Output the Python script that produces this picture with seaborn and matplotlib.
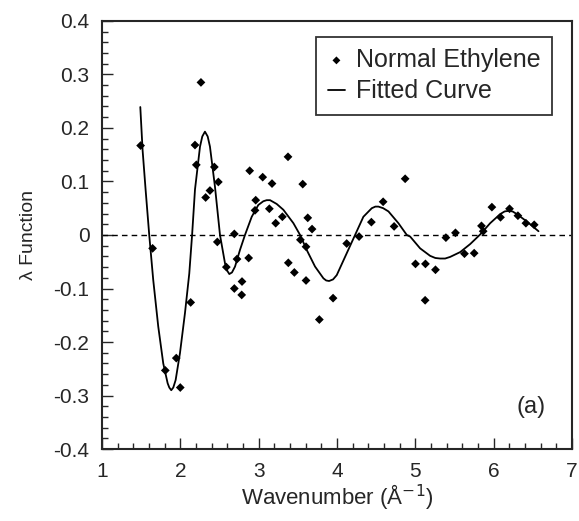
import matplotlib
matplotlib.use("Agg")
import matplotlib.pyplot as plt
from matplotlib.ticker import MultipleLocator
import seaborn as sns
import pandas as pd

# measured points (wavenumber, lambda)
k_data = [1.494, 1.647, 1.809, 1.949, 2.000, 2.133, 2.188, 2.205, 2.264, 2.324,
          2.379, 2.435, 2.473, 2.486, 2.588, 2.690, 2.690, 2.724, 2.784, 2.788,
          2.873, 2.886, 2.954, 2.963, 3.052, 3.137, 3.171, 3.218, 3.303, 3.375,
          3.379, 3.456, 3.533, 3.563, 3.605, 3.605, 3.627, 3.682, 3.775, 3.950,
          4.124, 4.282, 4.439, 4.589, 4.729, 4.870, 5.002, 5.125, 5.129, 5.257,
          5.390, 5.512, 5.627, 5.751, 5.844, 5.866, 5.977, 6.087, 6.202, 6.309,
          6.411, 6.517]
lam_data = [0.167, -0.025, -0.253, -0.230, -0.285, -0.126, 0.168, 0.131, 0.285, 0.070,
            0.083, 0.127, -0.013, 0.099, -0.060, 0.002, -0.100, -0.045, -0.112, -0.087,
            -0.043, 0.120, 0.046, 0.065, 0.108, 0.049, 0.096, 0.022, 0.034, 0.146,
            -0.052, -0.070, -0.009, 0.095, -0.022, -0.085, 0.032, 0.011, -0.158, -0.118,
            -0.016, -0.003, 0.024, 0.062, 0.016, 0.105, -0.054, -0.122, -0.054, -0.065,
            -0.005, 0.004, -0.035, -0.034, 0.017, 0.007, 0.052, 0.033, 0.049, 0.036,
            0.022, 0.019]

# fitted curve
k_fit = [1.490, 1.519, 1.558, 1.604, 1.655, 1.719, 1.783, 1.839, 1.860, 1.885,
         1.911, 1.941, 1.996, 2.060, 2.115, 2.151, 2.188, 2.252, 2.281, 2.315,
         2.350, 2.379, 2.443, 2.507, 2.571, 2.600, 2.626, 2.660, 2.699, 2.762,
         2.826, 2.912, 2.996, 3.060, 3.103, 3.146, 3.230, 3.316, 3.444, 3.529,
         3.614, 3.720, 3.827, 3.862, 3.899, 3.950, 3.997, 4.103, 4.231, 4.337,
         4.444, 4.490, 4.529, 4.590, 4.657, 4.784, 4.891, 4.934, 5.061, 5.189,
         5.255, 5.317, 5.380, 5.444, 5.572, 5.700, 5.828, 5.955, 6.083, 6.140,
         6.189, 6.240, 6.296, 6.424, 6.572]
lam_fit = [0.239, 0.159, 0.084, 0.000, -0.084, -0.171, -0.240, -0.277, -0.285, -0.290,
           -0.285, -0.271, -0.221, -0.146, -0.072, 0.000, 0.085, 0.165, 0.184, 0.193,
           0.184, 0.165, 0.090, 0.000, -0.053, -0.067, -0.073, -0.070, -0.059, -0.028,
           0.000, 0.034, 0.056, 0.063, 0.065, 0.065, 0.058, 0.047, 0.022, 0.000,
           -0.028, -0.059, -0.081, -0.085, -0.086, -0.083, -0.075, -0.041, 0.000, 0.034,
           0.050, 0.053, 0.053, 0.050, 0.044, 0.022, 0.000, -0.003, -0.025, -0.039,
           -0.043, -0.044, -0.044, -0.041, -0.032, -0.017, 0.001, 0.022, 0.039, 0.044,
           0.045, 0.044, 0.039, 0.025, 0.007]

sns.set_style("ticks")
plt.rcParams['font.family'] = ['Liberation Sans', 'DejaVu Sans']

df_pts = pd.DataFrame({'k': k_data, 'lam': lam_data})
df_fit = pd.DataFrame({'k': k_fit, 'lam': lam_fit})

fig = plt.figure(figsize=(5.79, 5.21), dpi=100)
ax = fig.add_axes([0.176, 0.138, 0.812, 0.822])

ax.axhline(0, color='black', lw=1, ls=(0, (4, 3)), zorder=1)
sns.lineplot(data=df_fit, x='k', y='lam', color='black', lw=1.3, sort=False,
             label='Fitted Curve', ax=ax)
sns.scatterplot(data=df_pts, x='k', y='lam', marker='D', color='black', s=20,
                edgecolor='none', label='Normal Ethylene', ax=ax)

ax.set_xlim(1, 7)
ax.set_ylim(-0.4, 0.4)
ax.xaxis.set_major_locator(MultipleLocator(1))
ax.xaxis.set_minor_locator(MultipleLocator(0.2))
ax.yaxis.set_minor_locator(MultipleLocator(0.02))
ax.set_yticks([-0.4, -0.3, -0.2, -0.1, 0, 0.1, 0.2, 0.3, 0.4])
ax.set_yticklabels(['-0.4', '-0.3', '-0.2', '-0.1', '0', '0.1', '0.2', '0.3', '0.4'])
ax.tick_params(which='major', direction='in', length=8, width=1, labelsize=15, pad=9)
ax.tick_params(which='minor', direction='in', length=4.5, width=1)
for s in ax.spines.values():
    s.set_linewidth(1.5)

ax.set_xlabel('Wavenumber (Å$^{-1}$)', fontsize=16, labelpad=1)
ax.set_ylabel('λ Function', fontsize=14, labelpad=12)

h, l = ax.get_legend_handles_labels()
leg = ax.legend(h[::-1], l[::-1], loc='upper right', bbox_to_anchor=(0.958, 0.963),
                fontsize=18, frameon=True, fancybox=False, edgecolor='black',
                handlelength=0.7, handletextpad=0.45, borderpad=0.45,
                borderaxespad=0, labelspacing=0.3, markerscale=0.9)
leg.get_frame().set_linewidth(1.3)

ax.text(0.913, 0.098, '(a)', transform=ax.transAxes, fontsize=17,
        ha='center', va='center')

fig.savefig('out.png', dpi=100)
